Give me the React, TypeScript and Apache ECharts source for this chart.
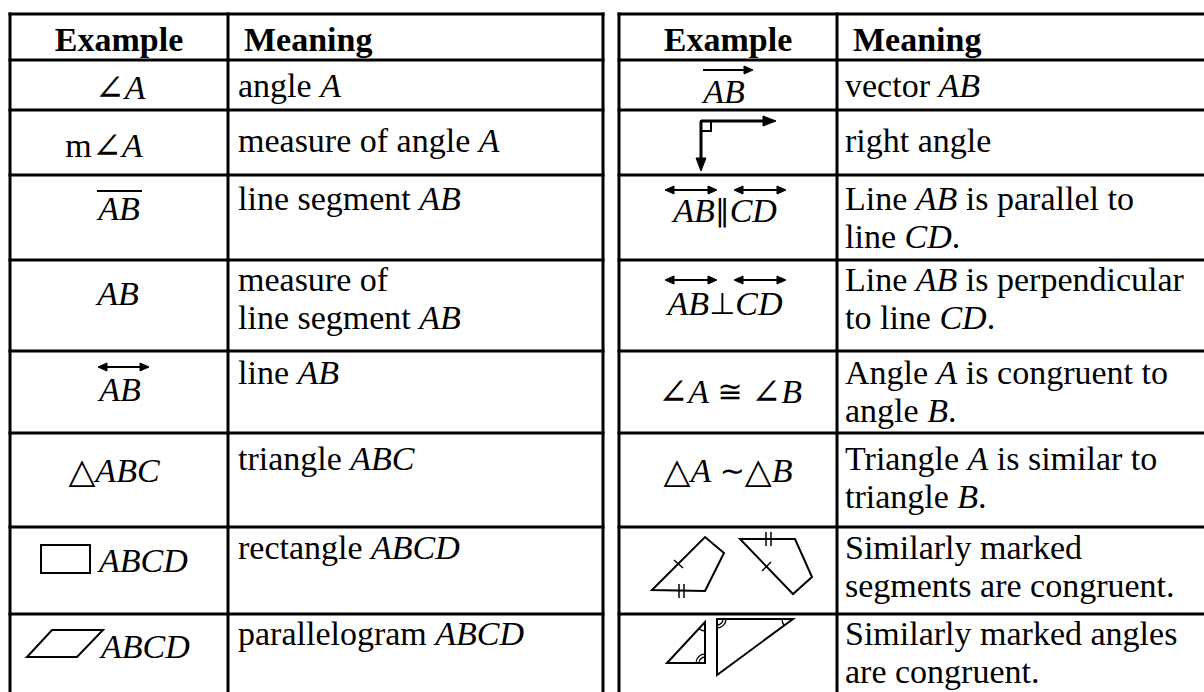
import React, { useEffect, useRef } from 'react';
import * as echarts from 'echarts';

// ---- content ----
const HEADERS = ['Example', 'Meaning'];
const LEFT_EXAMPLES = ['{a|∠}{i|A}', 'm{a|∠}{i|A}', '{i|AB}', '{i|AB}', '{i|AB}', '{t|△}{i|ABC}', '{i|ABCD}', '{i|ABCD}'];
const LEFT_MEANINGS = [
  'angle {i|A}',
  'measure of angle {i|A}',
  'line segment {i|AB}',
  'measure of\nline segment {i|AB}',
  'line {i|AB}',
  'triangle {i|ABC}',
  'rectangle {i|ABCD}',
  'parallelogram {i|ABCD}',
];
const RIGHT_EXAMPLES = ['{i|AB}', '', '{i|AB}{s|∥}{i|CD}', '{i|AB}{s|⊥}{i|CD}', '{a|∠}{i|A} {s|≅} {a|∠}{i|B}', '{t|△}{i|A} {s|∼}{t|△}{i|B}', '', ''];
const RIGHT_MEANINGS = [
  'vector {i|AB}',
  'right angle',
  'Line {i|AB} is parallel to\nline {i|CD}.',
  'Line {i|AB} is perpendicular\nto line {i|CD}.',
  'Angle {i|A} is congruent to\nangle {i|B}.',
  'Triangle {i|A} is similar to\ntriangle {i|B}.',
  'Similarly marked\nsegments are congruent.',
  'Similarly marked angles\nare congruent.',
];

// ---- layout ----
const SERIF = '"Liberation Serif", "Times New Roman", Times, serif';
const SYM = '"DejaVu Sans", "DejaVu Serif", sans-serif';
const INK = '#000';
const FS = 34;
const LH1 = 36; // single-line box
const LH2 = 38; // spacing of two-line cells
const MID = 11.5; // baseline offset below line centre
const ROWS = [14, 60, 110, 175, 260, 351, 433, 527, 614, 760];
const LT = { x0: 10, sep: 228, x1: 603 };
const RT = { x0: 619, sep: 837, x1: 1270 };
const HEAD_BASE = 51;
const MEAN_BASE = [97, 152, 210, 291, 384, 470, 559, 645];
const LEX_BASE = [99, 157, 220, 305, 401, 482, 572, 658];
const LEX_X = [120, 104, 119, 118, 120, 114, 99, 101];
const LEX_ALIGN = ['center', 'center', 'center', 'center', 'center', 'center', 'left', 'left'];
const REX_BASE = [103, 0, 222, 315, 403, 482, 0, 0];
const REX_X = [724, 0, 725, 725, 730, 728, 0, 0];

function richFor(lh: number) {
  return {
    i: { fontFamily: SERIF, fontStyle: 'italic', fontSize: FS, lineHeight: lh, fill: INK },
    s: { fontFamily: SYM, fontSize: 30, lineHeight: lh, fill: INK },
    a: { fontFamily: SYM, fontWeight: 200, fontSize: 36, lineHeight: lh, fill: INK },
    t: { fontFamily: SYM, fontWeight: 200, fontSize: 35, lineHeight: lh, fill: INK },
  };
}

function txt(x: number, baseline: number, text: string, align = 'left', bold = false) {
  const lh = text.indexOf('\n') >= 0 ? LH2 : LH1;
  return {
    type: 'text',
    x,
    y: baseline - MID - lh / 2,
    silent: true,
    style: {
      text,
      fill: INK,
      fontFamily: SERIF,
      fontSize: FS,
      fontWeight: bold ? 'bold' : 'normal',
      lineHeight: lh,
      align,
      verticalAlign: 'top',
      rich: richFor(lh),
    },
  };
}

function ln(x1: number, y1: number, x2: number, y2: number, w = 3) {
  return { type: 'line', silent: true, shape: { x1, y1, x2, y2 }, style: { stroke: INK, lineWidth: w, lineCap: 'square' } };
}
function thin(x1: number, y1: number, x2: number, y2: number, w = 2) {
  return { type: 'line', silent: true, shape: { x1, y1, x2, y2 }, style: { stroke: INK, lineWidth: w, lineCap: 'butt' } };
}
function head(tipX: number, tipY: number, dx: number, dy: number, len = 9, half = 4) {
  const bx = tipX - dx * len, by = tipY - dy * len;
  const px = -dy * half, py = dx * half;
  return {
    type: 'polygon', silent: true,
    shape: { points: [[tipX, tipY], [bx + px, by + py], [bx - px, by - py]] },
    style: { fill: INK, stroke: INK, lineWidth: 1 },
  };
}
function hArrow(x1: number, x2: number, y: number, both: boolean) {
  const els: any[] = [thin(both ? x1 + 4 : x1, y, x2 - 4, y, 2), head(x2, y, 1, 0)];
  if (both) els.push(head(x1, y, -1, 0));
  return els;
}
function poly(points: number[][], w = 2) {
  return { type: 'polygon', silent: true, shape: { points }, style: { fill: 'none', stroke: INK, lineWidth: w, lineJoin: 'miter' } };
}
function arc(cx: number, cy: number, r: number, a0: number, a1: number) {
  return {
    type: 'arc', silent: true,
    shape: { cx, cy, r, startAngle: (a0 * Math.PI) / 180, endAngle: (a1 * Math.PI) / 180, clockwise: true },
    style: { stroke: INK, lineWidth: 1.3, fill: 'none' },
  };
}

function buildOption() {
  const els: any[] = [];
  for (const t of [LT, RT]) {
    ROWS.slice(0, -1).forEach((y) => els.push(ln(t.x0, y, t.x1, y)));
    els.push(ln(t.x0, ROWS[0], t.x0, 720));
    els.push(ln(t.sep, ROWS[0], t.sep, 720));
    els.push(ln(t.x1, ROWS[0], t.x1, 720));
  }
  els.push(txt((LT.x0 + LT.sep) / 2, HEAD_BASE, HEADERS[0], 'center', true));
  els.push(txt(LT.sep + 16, HEAD_BASE, HEADERS[1], 'left', true));
  els.push(txt((RT.x0 + RT.sep) / 2, HEAD_BASE, HEADERS[0], 'center', true));
  els.push(txt(RT.sep + 16, HEAD_BASE, HEADERS[1], 'left', true));
  LEFT_MEANINGS.forEach((m, i) => els.push(txt(LT.sep + 10, MEAN_BASE[i], m)));
  RIGHT_MEANINGS.forEach((m, i) => els.push(txt(RT.sep + 8, MEAN_BASE[i], m)));
  LEFT_EXAMPLES.forEach((e, i) => els.push(txt(LEX_X[i], LEX_BASE[i], e, LEX_ALIGN[i])));
  RIGHT_EXAMPLES.forEach((e, i) => { if (e) els.push(txt(REX_X[i], REX_BASE[i], e, 'center')); });

  // left decorations
  els.push(thin(97, 191, 142, 191, 2));
  els.push(...hArrow(98, 149, 367, true));
  els.push({ type: 'rect', silent: true, shape: { x: 41, y: 545, width: 49, height: 28 }, style: { fill: 'none', stroke: INK, lineWidth: 2 } });
  els.push(poly([[27, 657], [52, 630], [103, 630], [77, 657]]));

  // right decorations
  els.push(...hArrow(703, 753, 70, false));
  els.push(thin(701, 121, 767, 121, 3));
  els.push(head(776, 121, 1, 0, 13, 5));
  els.push(thin(701, 121, 701, 160, 3));
  els.push(head(701, 171, 0, 1, 13, 5));
  els.push({ type: 'rect', silent: true, shape: { x: 701, y: 121, width: 10, height: 10 }, style: { fill: 'none', stroke: INK, lineWidth: 2 } });
  els.push(...hArrow(665, 717, 190, true));
  els.push(...hArrow(734, 786, 190, true));
  els.push(...hArrow(665, 717, 280, true));
  els.push(...hArrow(734, 786, 280, true));
  // congruent segments
  els.push(poly([[652, 590], [705, 537], [724, 553], [705, 591]]));
  els.push(thin(674, 560, 683, 568, 1.5));
  els.push(thin(679, 584, 679, 598, 1.5));
  els.push(thin(684, 584, 684, 598, 1.5));
  els.push(poly([[740, 539], [795, 539], [812, 577], [793, 594]]));
  els.push(thin(766, 532, 766, 546, 1.5));
  els.push(thin(771, 532, 771, 546, 1.5));
  els.push(thin(762, 571, 771, 562, 1.5));
  // congruent angles
  els.push(poly([[667, 663], [705, 622], [705, 663]]));
  els.push(arc(705, 622, 9, 90, 133));
  els.push(arc(705, 663, 6, 180, 270));
  els.push(arc(705, 663, 9, 180, 270));
  els.push(poly([[717, 619], [793, 619], [717, 675]]));
  els.push(arc(717, 619, 6, 0, 90));
  els.push(arc(717, 619, 9, 0, 90));
  els.push(arc(793, 619, 11, 144, 180));

  return { animation: false, backgroundColor: '#fff', graphic: { elements: els } };
}

export default function App() {
  const ref = useRef<HTMLDivElement>(null);
  useEffect(() => {
    const chart = echarts.init(ref.current as HTMLDivElement, null, { renderer: 'svg', width: 1204, height: 692 });
    chart.setOption(buildOption() as any);
    return () => chart.dispose();
  }, []);
  return (
    <div
      ref={ref}
      style={{ position: 'absolute', left: 0, top: 0, width: 1204, height: 692, background: '#fff', overflow: 'hidden' }}
    />
  );
}
